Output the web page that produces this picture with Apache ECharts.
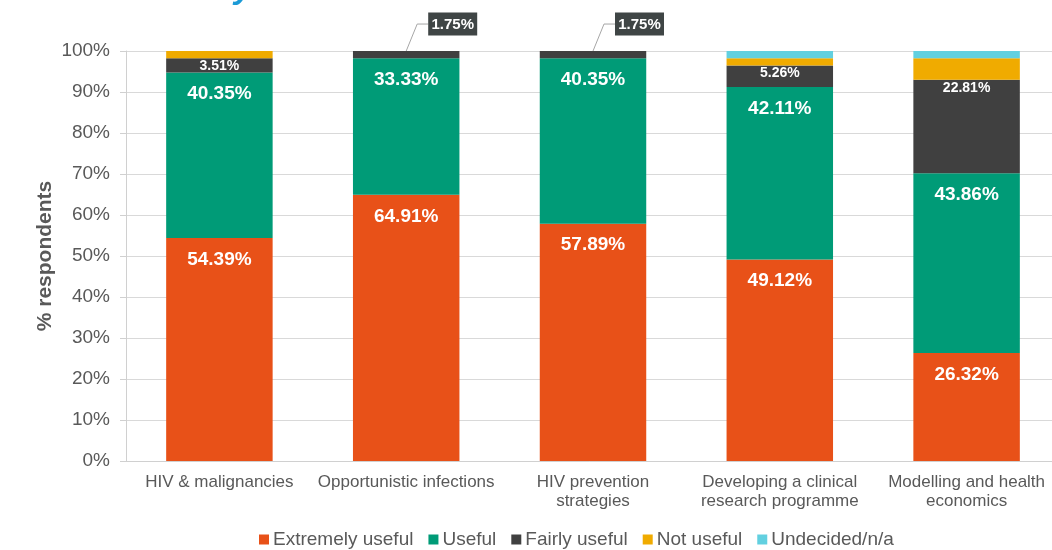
<!DOCTYPE html>
<html>
<head>
<meta charset="utf-8">
<script src="https://cdn.jsdelivr.net/npm/echarts@6/dist/echarts.min.js"></script>
<style>
  html, body { margin: 0; padding: 0; background: #fff; }
  #main { width: 1052px; height: 550px; }
</style>
</head>
<body>
<div id="main"></div>
<script>
// data
var categories = [
  'HIV & malignancies',
  'Opportunistic infections',
  'HIV prevention\nstrategies',
  'Developing a clinical\nresearch programme',
  'Modelling and health\neconomics'
];
var extremelyUseful = [54.39, 64.91, 57.89, 49.12, 26.32];
var useful = [40.35, 33.33, 40.35, 42.11, 43.86];
var fairlyUseful = [3.51, 1.75, 1.75, 5.26, 22.81];
var notUseful = [1.75, 0, 0, 1.75, 5.26];
var undecided = [0, 0, 0, 1.75, 1.75];
var yTicks = [0, 10, 20, 30, 40, 50, 60, 70, 80, 90, 100];
// categories whose "Fairly useful" label sits in a callout box
var calloutIdx = [1, 2];

var chart = echarts.init(document.getElementById('main'));

var font = 'Liberation Sans, Arial, sans-serif';

function pct(v) {
  return v.toFixed(2) + '%';
}

var bigLabel = {
  show: true,
  position: 'insideTop',
  distance: 12,
  color: '#fff',
  fontFamily: font,
  fontWeight: 'bold',
  fontSize: 19,
  formatter: function (p) { return pct(p.value); }
};

var calloutData = calloutIdx.map(function (i) {
  var top = extremelyUseful[i] + useful[i] + fairlyUseful[i];
  return [i, top, fairlyUseful[i]];
});

function renderCallout(params, api) {
  var pt = api.coord([api.value(0), api.value(1)]);
  var bx = pt[0] + 22, by = pt[1] - 27;
  return {
    type: 'group',
    children: [
      {
        type: 'polyline',
        shape: { points: [[pt[0], pt[1]], [pt[0] + 11, by], [bx, by]] },
        style: { stroke: '#a6a6a6', lineWidth: 1, fill: null }
      },
      {
        type: 'rect',
        shape: { x: bx, y: by - 11.5, width: 49, height: 23 },
        style: { fill: '#3F4545' }
      },
      {
        type: 'text',
        x: bx + 24.5,
        y: by + 1,
        style: {
          text: pct(api.value(2)),
          fill: '#fff',
          font: 'bold 15px Liberation Sans, Arial, sans-serif',
          align: 'center',
          verticalAlign: 'middle'
        }
      }
    ]
  };
}

var option = {
  animation: false,
  textStyle: { fontFamily: font },
  graphic: [{
    type: 'text',
    left: 234,
    top: -28,
    style: {
      text: 'y',
      fill: '#1B9AD6',
      font: 'bold italic 34px Liberation Sans, Arial, sans-serif'
    }
  }],
  grid: {
    left: 126,
    top: 51,
    width: 934,
    bottom: 89,
    outerBoundsMode: 'none'
  },
  legend: {
    top: 525,
    left: 254,
    itemWidth: 10,
    itemHeight: 10,
    itemGap: 15,
    icon: 'rect',
    textStyle: { color: '#595959', fontSize: 19, fontFamily: font, padding: [0, 0, 0, -1] },
    data: ['Extremely useful', 'Useful', 'Fairly useful', 'Not useful', 'Undecided/n/a']
  },
  xAxis: {
    type: 'category',
    data: categories,
    axisLine: { lineStyle: { color: '#d0d0d0' } },
    axisTick: { show: false },
    axisLabel: {
      color: '#595959',
      fontSize: 17,
      fontFamily: font,
      margin: 12,
      lineHeight: 19,
      interval: 0
    }
  },
  yAxis: {
    type: 'value',
    min: yTicks[0],
    max: yTicks[yTicks.length - 1],
    interval: 10,
    name: '% respondents',
    nameLocation: 'middle',
    nameGap: 70,
    nameMoveOverlap: false,
    nameTextStyle: { color: '#595959', fontSize: 21, fontWeight: 'bold', fontFamily: font },
    axisLine: { show: true, lineStyle: { color: '#d0d0d0' } },
    axisTick: { show: true, length: 6, lineStyle: { color: '#d0d0d0' } },
    splitLine: { lineStyle: { color: '#d9d9d9' } },
    axisLabel: {
      color: '#595959',
      fontSize: 19,
      fontFamily: font,
      margin: 16,
      formatter: '{value}%'
    }
  },
  series: [
    {
      name: 'Extremely useful',
      type: 'bar',
      stack: 'total',
      barWidth: '57%',
      itemStyle: { color: '#E85118' },
      label: bigLabel,
      data: extremelyUseful
    },
    {
      name: 'Useful',
      type: 'bar',
      stack: 'total',
      itemStyle: { color: '#009B77' },
      label: bigLabel,
      data: useful
    },
    {
      name: 'Fairly useful',
      type: 'bar',
      stack: 'total',
      itemStyle: { color: '#404040' },
      label: {
        show: true,
        position: 'insideTop',
        distance: 1,
        color: '#fff',
        fontFamily: font,
        fontWeight: 'bold',
        fontSize: 14,
        formatter: function (p) {
          return calloutIdx.indexOf(p.dataIndex) >= 0 ? '' : pct(p.value);
        }
      },
      data: fairlyUseful
    },
    {
      name: 'Not useful',
      type: 'bar',
      stack: 'total',
      itemStyle: { color: '#F0AB00' },
      data: notUseful
    },
    {
      name: 'Undecided/n/a',
      type: 'bar',
      stack: 'total',
      itemStyle: { color: '#62D0E0' },
      data: undecided
    },
    {
      name: 'callouts',
      type: 'custom',
      z: 10,
      silent: true,
      renderItem: renderCallout,
      data: calloutData
    }
  ]
};

chart.setOption(option);
</script>
</body>
</html>
